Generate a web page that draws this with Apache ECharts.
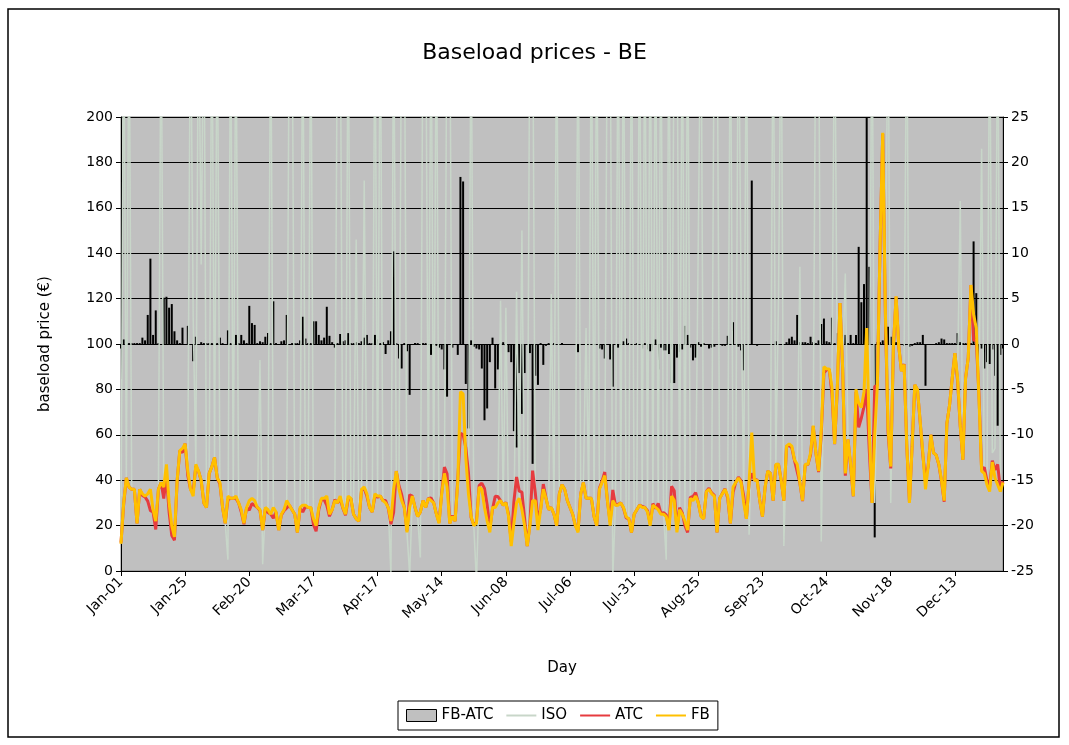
<!DOCTYPE html>
<html>
<head>
<meta charset="utf-8">
<title>Baseload prices - BE</title>
<script src="https://cdn.jsdelivr.net/npm/echarts@6/dist/echarts.min.js"></script>
<style>
  html, body { margin: 0; padding: 0; background: #fff; }
  #chart { width: 1069px; height: 745px; }
</style>
</head>
<body>
<div id="chart"></div>
<script>
// days that are not in the data set (2007)
var skippedDays = [
  "02-03", "02-10", "03-03", "03-24", "03-25", "03-31", "04-01", "04-07", "04-08", "04-09",
  "04-21", "04-28", "05-05", "05-27", "06-16", "06-23", "06-30", "07-01", "07-15", "08-12",
  "09-01", "09-02", "09-08", "09-09", "09-15", "09-30", "10-06", "10-07", "10-13", "10-14",
  "10-20", "10-21", "11-04", "12-02"
];
var monthNames = ["Jan", "Feb", "Mar", "Apr", "May", "Jun", "Jul", "Aug", "Sep", "Oct", "Nov", "Dec"];

// categories: one per trading day
var days = [];
for (var d = new Date(Date.UTC(2007, 0, 1)); d.getUTCFullYear() == 2007; d.setUTCDate(d.getUTCDate() + 1)) {
  var mm = ("0" + (d.getUTCMonth() + 1)).slice(-2);
  var dd = ("0" + d.getUTCDate()).slice(-2);
  if (skippedDays.indexOf(mm + "-" + dd) >= 0) continue;
  days.push(monthNames[d.getUTCMonth()] + "-" + dd);
}

// FB price (€)
var fbPrices = [
  12, 30, 41, 37, 36, 36, 21, 36, 34, 33,
  34, 36, 27, 22, 36, 39, 37, 47, 30, 20,
  15, 40, 53, 54, 56, 44, 36, 33, 47, 44,
  40, 30, 28, 43, 46, 50, 41, 39, 28, 21,
  33, 32, 32, 33, 30, 27, 21, 28, 31, 32,
  31, 28, 27, 18, 28, 27, 25, 28, 26, 18,
  25, 27, 31, 29, 27, 25, 17, 28, 29, 29,
  28, 28, 23, 20, 28, 32, 32, 33, 25, 27,
  31, 30, 33, 28, 25, 33, 32, 25, 23, 22,
  36, 37, 34, 28, 26, 34, 33, 33, 31, 30,
  28, 22, 36, 44, 36, 31, 28, 17, 28, 33,
  28, 24, 26, 31, 28, 32, 31, 30, 25, 21,
  34, 43, 37, 21, 24, 22, 39, 79, 78, 50,
  34, 24, 20, 21, 37, 36, 28, 22, 17, 28,
  28, 30, 31, 29, 30, 24, 11, 21, 30, 32,
  27, 20, 11, 20, 31, 31, 18, 27, 36, 32,
  27, 28, 25, 20, 34, 38, 36, 31, 28, 25,
  20, 17, 34, 39, 32, 32, 32, 24, 20, 36,
  39, 42, 31, 20, 31, 29, 29, 30, 28, 24,
  23, 17, 25, 27, 29, 28, 28, 26, 20, 29,
  28, 27, 25, 25, 24, 18, 33, 31, 17, 27,
  25, 22, 18, 32, 31, 33, 30, 24, 23, 35,
  36, 34, 33, 17, 32, 34, 36, 33, 21, 37,
  39, 41, 39, 30, 23, 39, 61, 40, 40, 31,
  24, 37, 44, 43, 31, 47, 47, 40, 31, 55,
  56, 55, 49, 47, 39, 31, 47, 47, 52, 64,
  52, 44, 62, 90, 89, 89, 81, 56, 81, 118,
  90, 43, 58, 47, 33, 80, 74, 72, 79, 107,
  61, 30, 60, 82, 143, 193, 114, 63, 46, 99,
  121, 99, 88, 91, 55, 30, 55, 82, 80, 66,
  52, 36, 46, 60, 52, 51, 47, 40, 31, 65,
  73, 85, 96, 85, 64, 49, 85, 94, 126, 113,
  107, 76, 44, 43, 38, 35, 48, 41, 38, 35, 39
];

// ATC price (€)
var atcPrices = [
  12.5, 29.5, 41, 37, 36, 36, 21, 36, 33.3, 32.6,
  30.8, 26.6, 26, 18.3, 36, 39, 31.9, 41.8, 26, 15.6,
  13.6, 39.6, 53, 52.2, 56.1, 42, 36, 34.9, 46.2, 44,
  39.8, 30, 28, 43, 46, 50, 41, 38.3, 28, 21,
  31.5, 32, 32, 32, 30, 26, 20.6, 28, 26.8, 29.7,
  28.9, 28, 26.7, 18, 27.2, 25.8, 25, 23.3, 26, 18.1,
  24.7, 26.6, 27.8, 29, 27, 25, 17, 27.6, 26, 28.4,
  28, 28, 20.5, 17.5, 27, 31.6, 31.3, 28.9, 24.1, 27,
  31.4, 30, 31.9, 27.7, 24.6, 31.8, 32, 25, 23, 22,
  35.7, 36.3, 33, 28, 26, 33, 32.5, 33, 31, 31.1,
  27.6, 20.6, 25.8, 44, 37.6, 33.7, 28, 17.8, 33.6, 33,
  28, 24, 26, 31, 28, 32, 32.2, 30, 25.2, 21.4,
  34.6, 45.8, 42.8, 21, 24.4, 22, 40.2, 60.6, 60.1, 54.4,
  43.3, 23.6, 20.3, 21.5, 37.6, 38.7, 36.4, 29.1, 19, 27.3,
  32.9, 32.8, 31, 29, 30.2, 24.9, 13, 30.6, 41.4, 35.2,
  34.7, 23.2, 11, 21, 44.2, 34.5, 22.5, 27, 38.3, 32.2,
  27, 28, 25, 20, 34, 38, 36, 31, 28, 25,
  20, 17.9, 34, 39, 32, 32, 32, 24, 20, 36.5,
  39.6, 43.6, 31, 21.7, 35.7, 29, 29.4, 30, 27.7, 23.4,
  23, 17, 25, 27, 29, 28.5, 28, 26.6, 20.8, 29.7,
  27.5, 29.8, 25.4, 25.7, 24.7, 19.1, 37.3, 35.3, 18.5, 27.9,
  25.6, 20, 17, 32.4, 32.8, 34.5, 30, 24.3, 23, 35,
  36.5, 34.4, 33.3, 17, 32, 34.2, 36.2, 32.1, 21, 34.6,
  39, 41.3, 39.7, 32.9, 23, 39.1, 43, 40.1, 40.2, 31,
  24, 37, 44, 43, 31, 46.7, 47, 40, 31, 54.8,
  55.4, 54.2, 48.6, 43.8, 38.8, 30.8, 46.8, 46.9, 51.2, 63.8,
  51.9, 43.6, 59.8, 87.2, 88.7, 88.8, 78.1, 55.9, 79.8, 118,
  89, 42, 57.9, 46, 32.9, 79, 63.3, 67.4, 72.4, 80,
  52.5, 30.1, 81.3, 81.8, 142.8, 192.6, 112, 61.1, 45.2, 98.7,
  120.8, 98.9, 88.1, 91.2, 55, 30.3, 55.2, 82, 79.8, 65.8,
  51, 40.6, 46.1, 60, 52, 51, 46.8, 39.4, 30.5, 65,
  73, 85, 96, 83.8, 63.8, 49, 85, 94, 126, 101.7,
  101.4, 78, 44.5, 45.7, 40, 37.2, 48.6, 44.5, 47, 36.2, 39.5
];

// ISO price (€), often far outside the axis
var isoPrices = [
  12, 260, 41, 260, 36, 36, 21, 36, 34, 33,
  34, 36, 27, 22, 36, 260, 37, 47, 30, 20,
  15, 40, 53, 54, 56, 44, 260, 112, 47, 260,
  135, 260, 28, 43, 260, 50, 260, 39, 28, 21,
  5, 260, 32, 260, 30, 27, 21, 28, 31, 32,
  31, 28, 93, 3, 28, 27, 260, 28, 26, 18,
  25, 27, 31, 260, 260, 25, 17, 28, 260, 29,
  28, 260, 23, 20, 28, 32, 32, 33, 25, 27,
  31, 260, 260, 28, 25, 260, 32, 25, 146, 22,
  36, 172, 34, 28, 26, 260, 33, 260, 31, 30,
  28, -2, 260, 44, 36, 260, 260, 17, -2, 33,
  28, 24, 6, 260, 260, 32, 260, 30, 260, 21,
  34, 43, 260, 260, 24, 22, 39, 79, 78, 50,
  34, 260, 20, -5, 37, 36, 28, 22, 17, 28,
  28, 30, 119, 29, 116, 22, 11, 21, 123, 32,
  150, 20, 11, 260, 260, 31, 18, 27, 36, 32,
  27, 122, 25, 260, 34, 38, 36, 31, 28, 25,
  20, 260, 34, 39, 107, 32, 260, 24, 260, 36,
  39, 42, 260, 260, -3, 29, 260, 30, 260, 24,
  23, 260, 25, 27, 260, 28, 260, 26, 260, 29,
  260, 27, 260, 25, 5, 260, 33, 260, 260, 27,
  260, 22, 260, 32, 31, 33, 147, 260, 23, 35,
  36, 34, 260, 260, 32, 34, 36, 33, 260, 37,
  39, 260, 123, 30, 260, 16, 61, 40, 40, 31,
  24, 37, 44, 43, 260, 47, 119, 260, 11, 55,
  56, 55, 49, 47, 134, 31, 47, 47, 52, 64,
  260, 260, 13, 90, 89, 89, 81, 260, 81, 118,
  90, 131, 58, 47, 33, 80, 74, 72, 79, 107,
  61, 260, 30, 82, 143, 193, 114, 260, 30, 99,
  121, 99, 88, 91, 260, 30, 55, 82, 80, 66,
  52, 36, 46, 60, 52, 51, 47, 40, 31, 65,
  73, 85, 96, 85, 163, 49, 85, 94, 126, 113,
  107, 76, 186, 43, 38, 260, 52, 54, 260, 35, 39
];

// FB - ATC spread (right axis)
var fbAtcSpread = [
  -0.5, 0.5, 0.1, 0.1, 0.1, 0.1, 0.1, 0.1, 0.7, 0.4,
  3.2, 9.4, 1.0, 3.7, 0.1, 0, 5.1, 5.2, 4.0, 4.4,
  1.4, 0.4, 0.1, 1.8, -0.1, 2.0, 0, -1.9, 0.8, 0,
  0.2, 0.1, 0.1, 0.1, 0.1, 0.1, 0.1, 0.7, 0.1, 0,
  1.5, 0.1, 0, 1.0, 0.1, 1.0, 0.4, 0.1, 4.2, 2.3,
  2.1, 0.1, 0.3, 0.2, 0.8, 1.2, 0.1, 4.7, 0.1, -0.1,
  0.3, 0.4, 3.2, 0, 0.1, 0.1, 0.1, 0.4, 3.0, 0.6,
  0.1, 0.1, 2.5, 2.5, 1.0, 0.4, 0.7, 4.1, 0.9, 0.2,
  -0.4, 0.1, 1.1, 0.3, 0.4, 1.2, 0.1, 0.1, 0.2, 0.1,
  0.3, 0.7, 1.0, 0.1, 0.1, 1.0, 0.5, 0.1, 0.2, -1.1,
  0.4, 1.4, 10.2, 0.1, -1.6, -2.7, 0.1, -0.8, -5.6, 0,
  0.1, 0.1, 0, 0.1, 0.1, 0, -1.2, 0, -0.2, -0.4,
  -0.6, -2.8, -5.8, 0, -0.4, 0, -1.2, 18.4, 17.9, -4.4,
  -9.3, 0.4, -0.3, -0.5, -0.6, -2.7, -8.4, -7.1, -2.0, 0.7,
  -4.9, -2.8, 0.1, 0.2, -0.2, -0.9, -2.0, -9.6, -11.4, -3.2,
  -7.7, -3.2, 0, -1.0, -13.2, -3.5, -4.5, 0.1, -2.3, -0.2,
  0.1, 0, 0.1, 0, 0, 0.1, 0, 0, 0, 0,
  0, -0.9, 0, 0, 0, 0, 0, 0, 0, -0.5,
  -0.6, -1.6, 0, -1.7, -4.7, 0, -0.4, 0, 0.3, 0.6,
  0.1, 0, -0.1, 0.1, 0, -0.5, 0.1, -0.6, -0.8, -0.7,
  0.5, -2.8, -0.4, -0.7, -0.7, -1.1, -4.3, -4.3, -1.5, -0.9,
  -0.6, 2.0, 1.0, -0.4, -1.8, -1.5, 0.2, -0.3, 0.1, 0,
  -0.5, -0.4, -0.3, 0, 0, -0.2, -0.2, 0.9, 0, 2.4,
  0, -0.3, -0.7, -2.9, 0, -0.1, 18.0, -0.1, -0.2, 0,
  0, 0, 0, 0, 0, 0.3, 0, 0, 0, 0.2,
  0.6, 0.8, 0.4, 3.2, 0.2, 0.2, 0.2, 0.1, 0.8, 0.2,
  0.1, 0.4, 2.2, 2.8, 0.3, 0.2, 2.9, 0.1, 1.2, 0,
  1.0, 1.0, 0.1, 1.0, 0.1, 1.0, 10.7, 4.6, 6.6, 27,
  8.5, -0.1, -21.3, 0.2, 0.2, 0.4, 2.0, 1.9, 0.8, 0.3,
  0.2, 0.1, -0.1, -0.2, 0, -0.3, -0.2, 0.1, 0.2, 0.2,
  1.0, -4.6, -0.1, 0, 0, 0.1, 0.2, 0.6, 0.5, 0.1,
  0.1, 0.1, 0.1, 1.2, 0.2, 0.1, 0.1, 0.1, 0.1, 11.3,
  5.6, -2.0, -0.5, -2.7, -2.0, -2.2, -0.6, -3.5, -9.0, -1.2, -0.5
];

var myChart = echarts.init(document.getElementById("chart"));
var font = "DejaVu Sans";
// legend swatch for the lines: only the line, no dot
var noDot = { opacity: 0 };

var option = {
  backgroundColor: "#ffffff",
  animation: false,
  textStyle: { fontFamily: font, color: "#000" },
  title: {
    text: "Baseload prices - BE",
    left: "center",
    top: 37,
    textStyle: { fontFamily: font, fontSize: 22, fontWeight: "normal", color: "#000" }
  },
  // outer frame of the chart
  graphic: [
    {
      type: "rect",
      shape: { x: 8, y: 9, width: 1051, height: 728 },
      style: { fill: "none", stroke: "#000", lineWidth: 1.5 },
      silent: true
    }
  ],
  legend: {
    bottom: 15,
    left: 398,
    orient: "horizontal",
    borderColor: "#000",
    borderWidth: 1,
    padding: [7, 8, 7, 8],
    itemGap: 12,
    itemWidth: 30,
    itemHeight: 12,
    textStyle: { fontFamily: font, fontSize: 15, color: "#000" },
    data: [
      { name: "FB-ATC", icon: "rect", itemStyle: { color: "#c0c0c0", borderColor: "#000", borderWidth: 1 } },
      { name: "ISO", itemStyle: noDot },
      { name: "ATC", itemStyle: noDot },
      { name: "FB", itemStyle: noDot }
    ]
  },
  grid: {
    left: 121,
    right: 66,
    top: 117,
    bottom: 174,
    show: true,
    backgroundColor: "#c0c0c0",
    borderColor: "#808080",
    borderWidth: 1
  },
  xAxis: {
    type: "category",
    data: days,
    boundaryGap: false,
    name: "Day",
    nameLocation: "middle",
    nameGap: 90,
    nameTextStyle: { fontFamily: font, fontSize: 15, color: "#000" },
    axisLine: { lineStyle: { color: "#000", width: 1 } },
    axisTick: { interval: 23, length: 5, lineStyle: { color: "#000" } },
    axisLabel: { interval: 23, rotate: 45, margin: 9, fontFamily: font, fontSize: 14, color: "#000" },
    splitLine: { show: false }
  },
  yAxis: [
    {
      type: "value",
      min: 0,
      max: 200,
      interval: 20,
      name: "baseload price (€)",
      nameLocation: "middle",
      nameGap: 68,
      nameTextStyle: { fontFamily: font, fontSize: 15, color: "#000" },
      axisLine: { show: true, lineStyle: { color: "#000" } },
      axisTick: { show: true, length: 5, lineStyle: { color: "#000" } },
      axisLabel: { fontFamily: font, fontSize: 14, color: "#000", margin: 8 },
      splitLine: { show: true, lineStyle: { color: "#000", width: 1 } }
    },
    {
      type: "value",
      min: -25,
      max: 25,
      interval: 5,
      position: "right",
      axisLine: { show: true, lineStyle: { color: "#000" } },
      axisTick: { show: true, length: 5, lineStyle: { color: "#000" } },
      axisLabel: { fontFamily: font, fontSize: 14, color: "#000", margin: 8 },
      splitLine: { show: false }
    }
  ],
  series: [
    {
      name: "FB-ATC",
      type: "bar",
      yAxisIndex: 1,
      data: fbAtcSpread,
      barWidth: 2,
      clip: true,
      itemStyle: { color: "#000" }
    },
    {
      name: "ISO",
      type: "line",
      data: isoPrices,
      symbol: "none",
      clip: true,
      lineStyle: { color: "#c8d6c9", width: 1.5 },
      itemStyle: { color: "#c8d6c9" }
    },
    {
      name: "ATC",
      type: "line",
      data: atcPrices,
      symbol: "none",
      clip: true,
      lineStyle: { color: "#e63b3f", width: 3 },
      itemStyle: { color: "#e63b3f" }
    },
    {
      name: "FB",
      type: "line",
      data: fbPrices,
      symbol: "none",
      clip: true,
      lineStyle: { color: "#ffc000", width: 3 },
      itemStyle: { color: "#ffc000" }
    }
  ]
};

myChart.setOption(option);
</script>
</body>
</html>
